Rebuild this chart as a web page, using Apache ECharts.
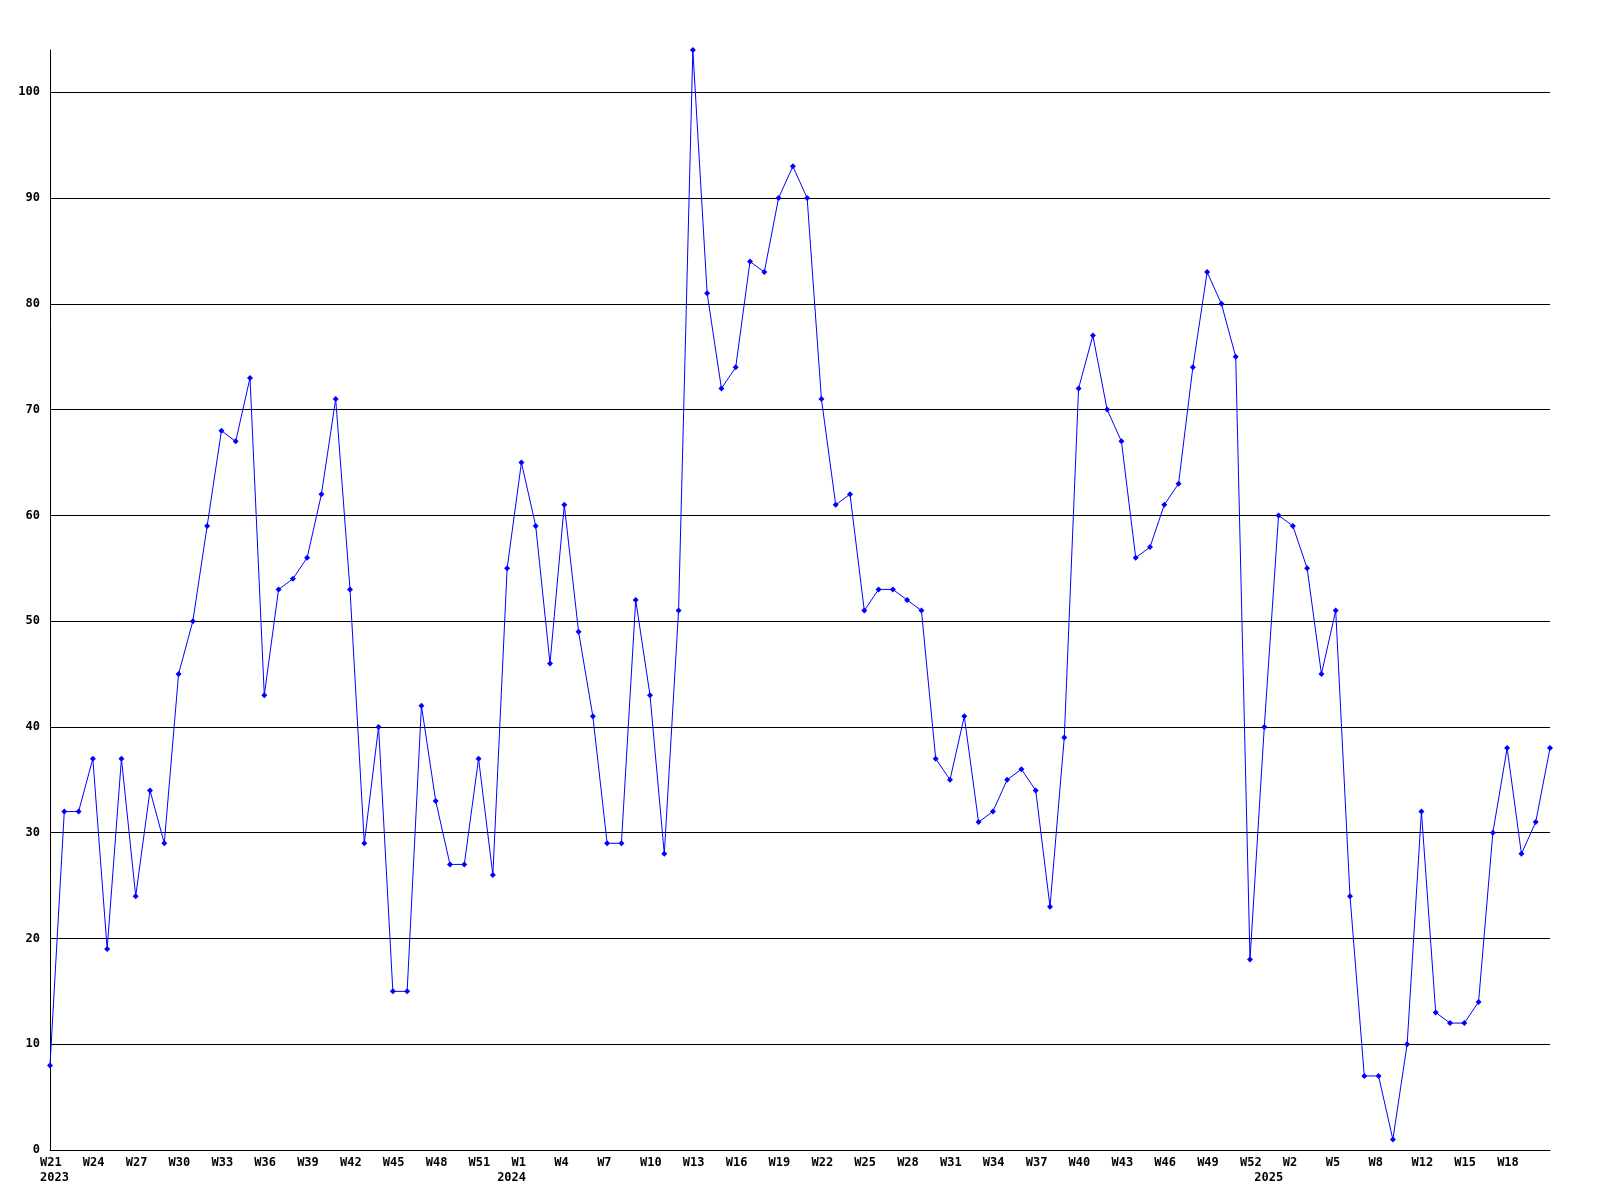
<!DOCTYPE html>
<html>
<head>
<meta charset="utf-8">
<script src="https://cdn.jsdelivr.net/npm/echarts@6/dist/echarts.min.js"></script>
<style>html,body{margin:0;padding:0;background:#fff}#c{width:1600px;height:1200px}</style>
</head>
<body>
<div id="c"></div>
<script>
// Weekly values, 2023 W21 .. 2025
const values = [8,32,32,37,19,37,24,34,29,45,50,59,68,67,73,43,53,54,56,62,71,53,29,40,15,15,42,33,27,27,37,26,
  55,65,59,46,61,49,41,29,29,52,43,28,51,104,81,72,74,84,83,90,93,90,71,61,62,51,53,53,52,51,37,35,41,31,32,35,36,34,23,39,72,77,70,67,56,57,61,63,74,83,80,75,18,
  40,60,59,55,45,51,24,7,7,1,10,32,13,12,12,14,30,38,28,31,38];
// Week tick labels, one every 3rd point starting at the first
const tickLabels = ['W21','W24','W27','W30','W33','W36','W39','W42','W45','W48','W51','W1','W4','W7','W10','W13','W16','W19','W22','W25','W28','W31','W34','W37','W40','W43','W46','W49','W52','W2','W5','W8','W12','W15','W18'];
// Year labels: [text, point index]
const yearLabels = [['2023',0],['2024',32],['2025',85]];
const yTicks = [0,10,20,30,40,50,60,70,80,90,100];

const categories = values.map((v,i)=>String(i));
const labelFor = {};
tickLabels.forEach((t,k)=>{ labelFor[k*3] = t; });
const yearFor = {};
yearLabels.forEach(([t,i])=>{ yearFor[i] = t; });

const font = {fontFamily:'DejaVu Sans Mono', fontWeight:'bold', fontSize:12, color:'#000'};
const chart = echarts.init(document.getElementById('c'), null, {renderer:'canvas'});
const splitColors = yTicks.map(()=>'#000').concat(['rgba(0,0,0,0)']);
chart.setOption({
  animation:false,
  backgroundColor:'#fff',
  grid:[
    {left:50, top:50, width:1500, height:1100},
    {left:40, top:50, width:1500, height:1100}
  ],
  xAxis:[
    {type:'category', gridIndex:0, data:categories, boundaryGap:false,
     axisLine:{show:true, lineStyle:{color:'#000', width:1}}, axisTick:{show:false}, axisLabel:{show:false}, splitLine:{show:false}},
    {type:'category', gridIndex:1, data:categories, boundaryGap:false,
     axisLine:{show:false}, axisTick:{show:false}, splitLine:{show:false},
     axisLabel:Object.assign({show:true, interval:0, align:'left', verticalAlign:'top', margin:5, lineHeight:15,
       formatter:(val,i)=>{ const w = labelFor[i]||''; const y = yearFor[i]; if(y!==undefined) return w+'\n'+y; return w; }}, font)}
  ],
  yAxis:[
    {type:'value', gridIndex:0, min:0, max:104, interval:10,
     axisLine:{show:true, lineStyle:{color:'#000', width:1}}, axisTick:{show:false},
     axisLabel:Object.assign({margin:10, showMaxLabel:false, formatter:(v)=> yTicks.indexOf(v)>=0 ? String(v) : ''}, font),
     splitLine:{show:true, lineStyle:{color:splitColors, width:1}}},
    {type:'value', gridIndex:1, min:0, max:104, show:false}
  ],
  series:[{
    type:'line', xAxisIndex:0, yAxisIndex:0, data:values,
    symbol:'diamond', symbolSize:6, showSymbol:true,
    lineStyle:{color:'#0000ff', width:1}, itemStyle:{color:'#0000ff'},
    emphasis:{disabled:true}
  }]
});
</script>
</body>
</html>
